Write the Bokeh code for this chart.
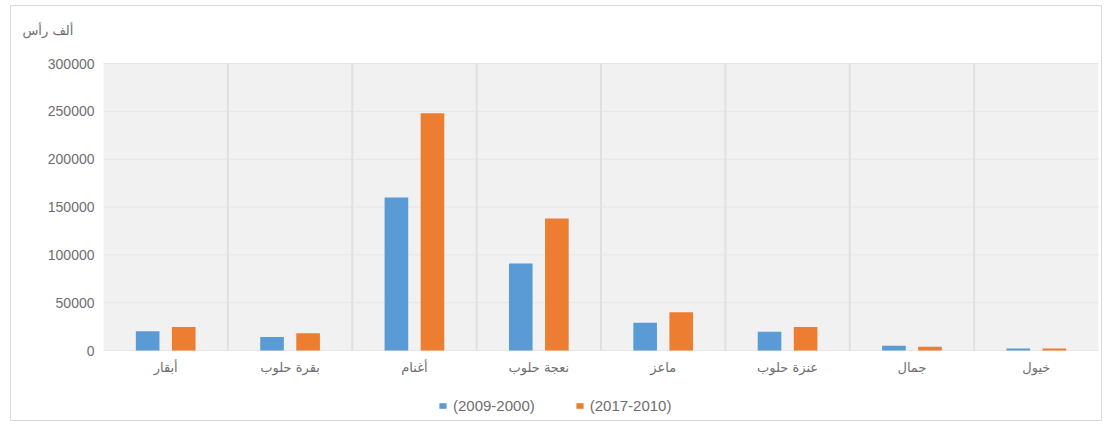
import numpy as np
from bokeh.plotting import figure
from bokeh.models import (ColumnDataSource, Legend, LegendItem, Range1d)
from bokeh.core.properties import value
from bokeh.transform import dodge
from bokeh.embed import file_html
from bokeh.resources import INLINE

# Livestock numbers (heads) by type, two period averages
categories = ["أبقار", "بقرة حلوب", "أغنام", "نعجة حلوب", "ماعز", "عنزة حلوب", "جمال", "خيول"]
period_a_label = "(2009-2000)"
period_b_label = "(2017-2010)"
period_a = [20000, 14000, 160000, 91000, 29000, 19500, 5000, 2000]
period_b = [24500, 18000, 248000, 138000, 40000, 24500, 4000, 2000]
y_ticks = [0, 50000, 100000, 150000, 200000, 250000, 300000]
unit_label = "ألف رأس"

BLUE = "#5b9bd5"
ORANGE = "#ed7d31"
TEXT = "#6e6e6e"
PLOT_BG = "#f1f1f1"
ARABIC_FONT = "DejaVu Sans"
NUM_FONT = "Liberation Sans"

n = len(categories)
y_max = y_ticks[-1]
centers = np.arange(n) + 0.5

# The frame is the whole chart box; the plot area spans x in [0, n] and
# y in [0, y_max], with room left around it for labels and the legend.
W, H = 1116, 435
box_left, box_top, box_right, box_bottom = 10, 5, 1101, 420
area_left, area_top, area_right, area_bottom = 103, 63, 1098, 350
px_x = (area_right - area_left) / n
px_y = (area_bottom - area_top) / y_max
x_range = Range1d(-(area_left - box_left) / px_x, n + (box_right - area_right) / px_x)
y_range = Range1d(-(box_bottom - area_bottom) / px_y, y_max + (area_top - box_top) / px_y)

p = figure(width=W, height=H, output_backend="svg", toolbar_location=None,
           x_range=x_range, y_range=y_range,
           min_border_left=box_left, min_border_right=W - box_right,
           min_border_top=box_top, min_border_bottom=H - box_bottom)
p.axis.visible = False
p.grid.visible = False
p.background_fill_color = "white"
p.border_fill_color = "white"
p.outline_line_color = "#d9d9d9"

# plot area background and grid
p.quad(left=[0], right=[n], bottom=[0], top=[y_max], fill_color=PLOT_BG,
       line_color=None)
p.segment(x0=[0] * len(y_ticks), x1=[n] * len(y_ticks), y0=y_ticks, y1=y_ticks,
          line_color="#e6e6e6", line_width=1)
bounds = list(range(1, n))
p.segment(x0=bounds, x1=bounds, y0=[0] * len(bounds), y1=[y_max] * len(bounds),
          line_color="#e0e0e0", line_width=2)

# bars
source = ColumnDataSource(dict(x=centers, a=period_a, b=period_b))
bar_w = 0.19
off = 0.145
r_a = p.vbar(x=dodge("x", -off), top="a", width=bar_w, source=source,
             fill_color=BLUE, line_color=None)
r_b = p.vbar(x=dodge("x", off), top="b", width=bar_w, source=source,
             fill_color=ORANGE, line_color=None)

# value axis labels
p.text(x=[0] * len(y_ticks), y=y_ticks, text=[str(t) for t in y_ticks],
       x_offset=-9, text_align="right", text_baseline="middle",
       text_font=value(NUM_FONT), text_font_size="14px", text_color=TEXT)

# category labels
p.text(x=centers, y=[0] * n, text=categories, y_offset=17,
       text_align="center", text_baseline="middle",
       text_font=value(ARABIC_FONT), text_font_size="13px", text_color=TEXT)

# unit label above the value axis
p.text(x=[0], y=[y_max], text=[unit_label], x_offset=-81, y_offset=-33,
       text_align="left", text_baseline="middle",
       text_font=value(ARABIC_FONT), text_font_size="13px", text_color=TEXT)

legend = Legend(items=[LegendItem(label=period_a_label, renderers=[r_a]),
                       LegendItem(label=period_b_label, renderers=[r_b])],
                orientation="horizontal", location=(428, 6),
                glyph_width=9, glyph_height=7, spacing=40, label_standoff=6,
                label_text_font=NUM_FONT, label_text_font_size="15px",
                label_text_color=TEXT, border_line_color=None,
                background_fill_alpha=0, padding=0, margin=0)
p.add_layout(legend, "center")

open("out.html", "w").write(file_html(p, INLINE))
